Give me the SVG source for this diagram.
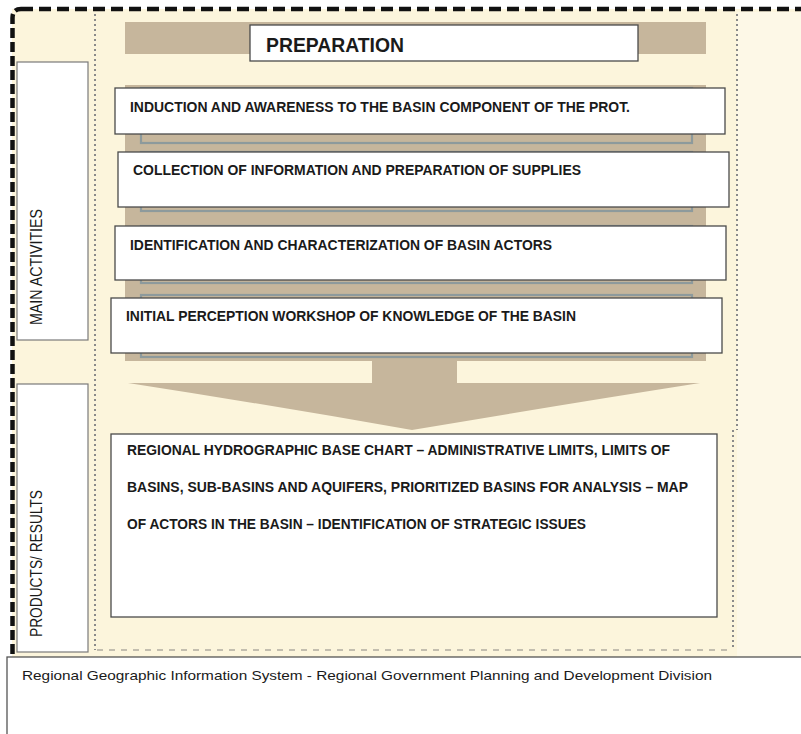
<svg xmlns="http://www.w3.org/2000/svg" width="801" height="734" viewBox="0 0 801 734">
  <style>
    .box { fill: #ffffff; stroke: #4a4a4a; stroke-width: 1.3; }
    .lbl { fill: #ffffff; stroke: #7a7a7a; stroke-width: 1.2; }
    .tan { fill: #c6b69c; }
    .frame { fill: none; stroke: #8d9a9c; stroke-width: 2.2; }
    .t { font-family: "Liberation Sans", Arial, sans-serif; font-weight: bold; font-size: 14px; fill: #1a1a1a; }
    .v { font-family: "Liberation Sans", Arial, sans-serif; font-size: 16px; fill: #1a1a1a; }
    .b { font-family: "Liberation Sans", Arial, sans-serif; font-size: 13px; fill: #1a1a1a; }
  </style>
  <rect x="0" y="0" width="801" height="734" fill="#ffffff"/>
  <!-- background -->
  <rect x="12" y="9" width="789" height="648" fill="#fcf5dc"/>
  <rect x="737" y="12" width="64" height="645" fill="#fdf8e7"/>

  <!-- borders -->
  <g id="borders">
    <path d="M21,9 H801" fill="none" stroke="#111" stroke-width="4.5" stroke-dasharray="12 6"/>
    <path d="M12.5,654 V18 Q12.5,9 21,9" fill="none" stroke="#111" stroke-width="4.5" stroke-dasharray="10 4"/>
    <line x1="95" y1="14" x2="95" y2="650" stroke="#8a8a8a" stroke-width="2" stroke-dasharray="2 3"/>
    <line x1="737" y1="14" x2="737" y2="430" stroke="#8a8a8a" stroke-width="2" stroke-dasharray="2 3"/>
    <line x1="733" y1="430" x2="733" y2="650" stroke="#8a8a8a" stroke-width="2" stroke-dasharray="2 3"/>
    <line x1="97" y1="650" x2="731" y2="650" stroke="#b0aca0" stroke-width="1.5" stroke-dasharray="6 6"/>
  </g>

  <!-- tan panel and arrow -->
  <g id="panel">
    <rect class="tan" x="125" y="22" width="581" height="32"/>
    <rect class="tan" x="125" y="85" width="581" height="276"/>
    <rect class="tan" x="372" y="360" width="85" height="24"/>
    <path class="tan" d="M128,383 L700,383 Q560,405 412,430 Q270,405 128,383 Z"/>
    <rect class="frame" x="141" y="88" width="551" height="55"/>
    <rect class="frame" x="141" y="152" width="551" height="59"/>
    <rect class="frame" x="141" y="226" width="551" height="57"/>
    <rect class="frame" x="141" y="295" width="551" height="62"/>
  </g>

  <g id="preparation">
    <rect class="box" x="250" y="25" width="388" height="36"/>
    <text class="t" x="266" y="52" style="font-size:21px" textLength="138" lengthAdjust="spacingAndGlyphs">PREPARATION</text>
  </g>

  <g id="act1">
    <rect class="box" x="115" y="88" width="610" height="46"/>
    <text class="t" x="130" y="111.5" textLength="500" lengthAdjust="spacingAndGlyphs">INDUCTION AND AWARENESS TO THE BASIN COMPONENT OF THE PROT.</text>
  </g>
  <g id="act2">
    <rect class="box" x="118" y="152" width="611" height="55"/>
    <text class="t" x="133" y="175" textLength="448" lengthAdjust="spacingAndGlyphs">COLLECTION OF INFORMATION AND PREPARATION OF SUPPLIES</text>
  </g>
  <g id="act3">
    <rect class="box" x="115" y="226" width="611" height="54"/>
    <text class="t" x="130" y="250" textLength="422" lengthAdjust="spacingAndGlyphs">IDENTIFICATION AND CHARACTERIZATION OF BASIN ACTORS</text>
  </g>
  <g id="act4">
    <rect class="box" x="111" y="298" width="611" height="55"/>
    <text class="t" x="126" y="321" textLength="450" lengthAdjust="spacingAndGlyphs">INITIAL PERCEPTION WORKSHOP OF KNOWLEDGE OF THE BASIN</text>
  </g>

  <g id="products">
    <rect class="box" x="111" y="434" width="606" height="183"/>
    <text class="t" x="127" y="455" textLength="543" lengthAdjust="spacingAndGlyphs">REGIONAL HYDROGRAPHIC BASE CHART – ADMINISTRATIVE LIMITS, LIMITS OF</text>
    <text class="t" x="127" y="491.5" textLength="561" lengthAdjust="spacingAndGlyphs">BASINS, SUB-BASINS AND AQUIFERS, PRIORITIZED BASINS FOR ANALYSIS – MAP</text>
    <text class="t" x="127" y="529" textLength="459" lengthAdjust="spacingAndGlyphs">OF ACTORS IN THE BASIN – IDENTIFICATION OF STRATEGIC ISSUES</text>
  </g>

  <g id="label-main">
    <rect class="lbl" x="17" y="62" width="71" height="278"/>
    <text class="v" transform="translate(41.5,325) rotate(-90)" textLength="116" lengthAdjust="spacingAndGlyphs">MAIN ACTIVITIES</text>
  </g>
  <g id="label-products">
    <rect class="lbl" x="17" y="384" width="71" height="268"/>
    <text class="v" transform="translate(42,637) rotate(-90)" textLength="147" lengthAdjust="spacingAndGlyphs">PRODUCTS/ RESULTS</text>
  </g>

  <g id="footer">
    <rect x="7" y="657" width="800" height="80" fill="#ffffff" stroke="#555" stroke-width="1.3"/>
    <text class="b" x="22" y="680" textLength="690" lengthAdjust="spacingAndGlyphs">Regional Geographic Information System - Regional Government Planning and Development Division</text>
  </g>
</svg>
